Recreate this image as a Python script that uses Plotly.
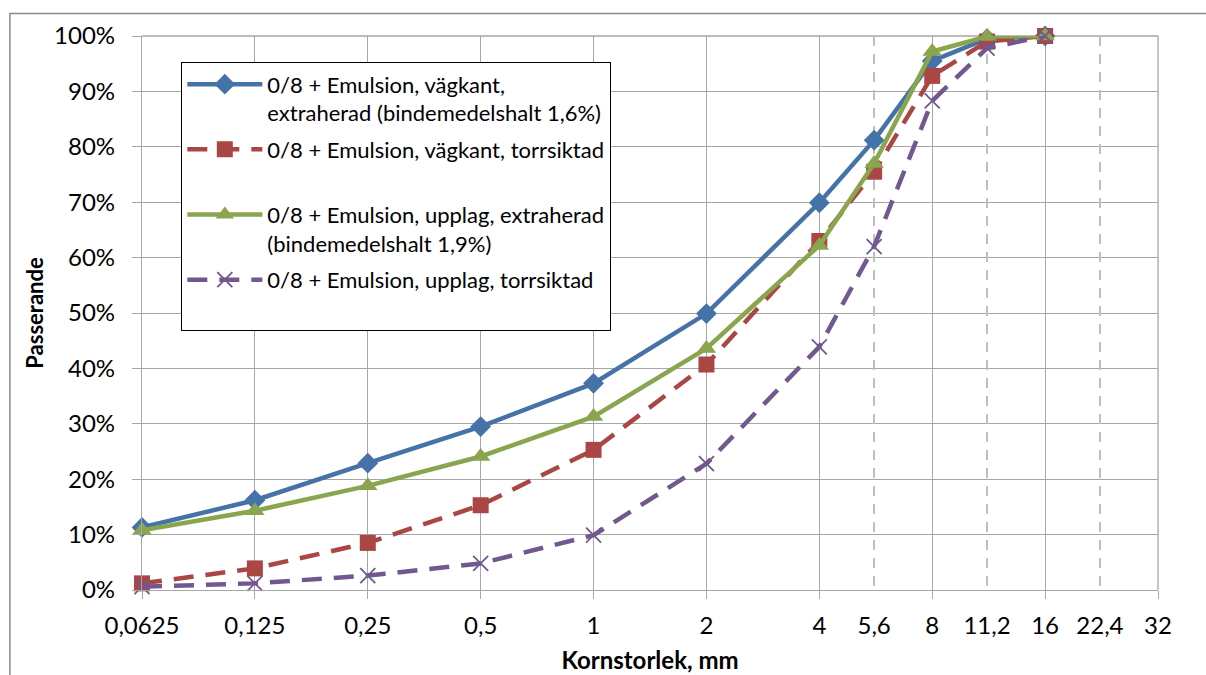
import math
import plotly.graph_objects as go

# Sieve sizes (mm) and passing percentages for each sample
sieve_mm = [0.0625, 0.125, 0.25, 0.5, 1, 2, 4, 5.6, 8, 11.2, 16]

vagkant_extraherad = [11.3, 16.2, 22.9, 29.5, 37.3, 49.9, 69.9, 81.2, 95.5, 99.5, 100]
vagkant_torrsiktad = [1.2, 3.9, 8.5, 15.3, 25.3, 40.7, 63.0, 75.5, 92.8, 99.0, 100]
upplag_extraherad = [10.8, 14.3, 18.8, 24.1, 31.3, 43.6, 62.2, 77.0, 97.2, 99.9, 100]
upplag_torrsiktad = [0.6, 1.2, 2.6, 4.8, 9.9, 22.8, 43.9, 62.0, 88.3, 97.8, 100]

series_names = [
    "0/8 + Emulsion, vägkant,<br>extraherad (bindemedelshalt 1,6%)",
    "0/8 + Emulsion, vägkant, torrsiktad<br> ",
    "0/8 + Emulsion, upplag, extraherad<br>(bindemedelshalt 1,9%)",
    "0/8 + Emulsion, upplag, torrsiktad<br> ",
]

# Axis ticks
major_ticks = [0.0625, 0.125, 0.25, 0.5, 1, 2, 4, 8, 16, 32]
major_labels = ["0,0625", "0,125", "0,25", "0,5", "1", "2", "4", "8", "16", "32"]
dashed_ticks = [5.6, 11.2, 22.4]
dashed_labels = ["5,6", "11,2", "22,4"]
y_ticks = [0, 10, 20, 30, 40, 50, 60, 70, 80, 90, 100]
y_labels = ["0%", "10%", "20%", "30%", "40%", "50%", "60%", "70%", "80%", "90%", "100%"]

FONT = "Lato"
GRID = "#A6A6A6"

styles = [
    dict(color="#4572A7", dash="solid", symbol="diamond", size=16, lw=0),
    dict(color="#AA4643", dash="20px,12px", symbol="square", size=16, lw=0),
    dict(color="#89A54E", dash="solid", symbol="triangle-up", size=17, lw=0),
    dict(color="#71588F", dash="20px,12px", symbol="x-thin", size=15, lw=1.8),
]
values = [vagkant_extraherad, vagkant_torrsiktad, upplag_extraherad, upplag_torrsiktad]

fig = go.Figure()
for i, (name, vals, st) in enumerate(zip(series_names, values, styles)):
    fig.add_trace(go.Scatter(
        x=sieve_mm, y=vals, name=name, mode="lines+markers",
        legendgroup=f"g{i}",
        line=dict(color=st["color"], width=4.5, dash=st["dash"]),
        marker=dict(symbol=st["symbol"], size=st["size"], color=st["color"],
                    line=dict(color=st["color"], width=st["lw"])),
        cliponaxis=False, hoverinfo="skip",
    ))

# Invisible companion trace that carries the secondary x axis (dashed grid)
fig.add_trace(go.Scatter(
    x=sieve_mm, y=vagkant_extraherad, xaxis="x2", mode="lines",
    opacity=0, showlegend=False, hoverinfo="skip",
))

x_range = [math.log10(major_ticks[0]), math.log10(major_ticks[-1])]
tick_font = dict(family=FONT, size=24, color="black")

fig.update_layout(
    width=1206, height=675,
    margin=dict(l=142, r=48, t=36, b=85),
    paper_bgcolor="white", plot_bgcolor="white",
    font=dict(family=FONT, size=22, color="black"),
    showlegend=True,
    legend=dict(
        x=0.0384, y=0.953, xanchor="left", yanchor="top",
        bgcolor="white", bordercolor="black", borderwidth=1.3,
        font=dict(family=FONT, size=22, color="black"),
        tracegroupgap=5, valign="top", itemwidth=75,
    ),
    xaxis=dict(
        type="log", range=x_range, automargin=False,
        tickvals=major_ticks, ticktext=major_labels, tickfont=tick_font,
        showgrid=True, gridcolor=GRID, gridwidth=1.3,
        showline=True, linecolor=GRID, linewidth=1.3,
        ticks="outside", ticklen=8, tickcolor=GRID, tickwidth=1.3,
        ticklabelstandoff=6,
        zeroline=False,
        title=dict(text="<b>Kornstorlek, mm</b>", font=dict(family=FONT, size=24), standoff=14),
    ),
    xaxis2=dict(
        type="log", range=x_range, overlaying="x", anchor="y", side="bottom",
        automargin=False,
        tickvals=dashed_ticks, ticktext=dashed_labels, tickfont=tick_font,
        showgrid=True, gridcolor="#BFBFBF", gridwidth=1.6, griddash="10px,8px",
        showline=False, ticks="outside", ticklen=8, tickcolor="rgba(0,0,0,0)",
        ticklabelstandoff=6,
        zeroline=False,
    ),
    yaxis=dict(
        range=[0, 100], automargin=False,
        tickvals=y_ticks, ticktext=y_labels, tickfont=tick_font,
        showgrid=True, gridcolor=GRID, gridwidth=1.3,
        showline=True, linecolor=GRID, linewidth=1.3,
        ticks="outside", ticklen=9, tickcolor=GRID, tickwidth=1.3,
        ticklabelstandoff=12,
        zeroline=False,
        title=dict(text="<b>Passerande</b>", font=dict(family=FONT, size=22), standoff=4),
    ),
)

# Right and top plot edges
fig.add_shape(type="line", xref="paper", yref="paper", x0=1, x1=1, y0=0, y1=1,
              line=dict(color=GRID, width=1.3), layer="below")
fig.add_shape(type="line", xref="paper", yref="paper", x0=0, x1=1, y0=1, y1=1,
              line=dict(color=GRID, width=1.3), layer="below")
# Outer chart frame
fig.add_shape(type="rect", xref="paper", yref="paper", x0=-0.130, x1=1.2, y0=-0.3, y1=1.0406,
              line=dict(color="#8C8C8C", width=1.5), layer="below")

fig.write_html("out.html")
